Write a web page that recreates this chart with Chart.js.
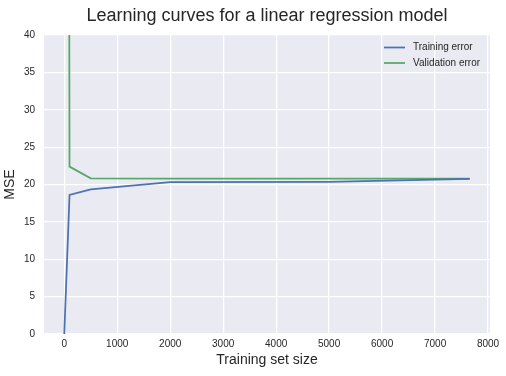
<!DOCTYPE html>
<html>
<head>
<meta charset="utf-8">
<script src="https://cdn.jsdelivr.net/npm/chart.js@4.4.0/dist/chart.umd.min.js"></script>
<style>
  html, body { margin: 0; padding: 0; background: #fff; }
  #wrap { width: 506px; height: 376px; }
</style>
</head>
<body>
<div id="wrap"><canvas id="chart" width="506" height="376"></canvas></div>
<script>
// training set sizes and mean MSE
var trainSizes = [1, 100, 500, 2000, 5000, 7654];
var trainError = [0, 18.6, 19.34, 20.33, 20.36, 20.75];
var validError = [423.4, 22.39, 20.83, 20.80, 20.79, 20.78];
var xTicks = [0, 1000, 2000, 3000, 4000, 5000, 6000, 7000, 8000];
var yTicks = [0, 5, 10, 15, 20, 25, 30, 35, 40];

var FONT = "'Liberation Sans', Arial, sans-serif";
var TXT = '#262626';

function toPoints(xs, ys) {
  return xs.map(function(x, i) { return {x: x, y: ys[i]}; });
}

// seaborn-like grey panel behind the plot
var panelBg = {
  id: 'panelBg',
  beforeDraw: function(chart) {
    var a = chart.chartArea, ctx = chart.ctx;
    ctx.save();
    ctx.fillStyle = '#EAEAF2';
    ctx.fillRect(a.left, a.top, a.right - a.left, a.bottom - a.top);
    ctx.restore();
  }
};

// legend sitting inside the plot, top right, no frame
var innerLegend = {
  id: 'innerLegend',
  afterDraw: function(chart) {
    var ctx = chart.ctx;
    ctx.save();
    ctx.font = '10px ' + FONT;
    ctx.textBaseline = 'middle';
    ctx.textAlign = 'left';
    chart.data.datasets.forEach(function(ds, i) {
      var y = 47.5 + i * 15.5;
      ctx.strokeStyle = ds.borderColor;
      ctx.lineWidth = 1.75;
      ctx.beginPath();
      ctx.moveTo(384, y);
      ctx.lineTo(405, y);
      ctx.stroke();
      ctx.fillStyle = TXT;
      ctx.fillText(ds.label, 413, y);
    });
    ctx.restore();
  }
};

new Chart(document.getElementById('chart'), {
  type: 'line',
  data: {
    datasets: [{
      label: 'Training error',
      data: toPoints(trainSizes, trainError),
      borderColor: '#4C72B0',
      borderWidth: 1.75,
      pointRadius: 0,
      fill: false,
      tension: 0
    }, {
      label: 'Validation error',
      data: toPoints(trainSizes, validError),
      borderColor: '#55A868',
      borderWidth: 1.75,
      pointRadius: 0,
      fill: false,
      tension: 0
    }]
  },
  options: {
    responsive: false,
    animation: false,
    layout: { padding: { top: 0, right: 16, left: 0, bottom: 0 } },
    plugins: {
      legend: { display: false },
      tooltip: { enabled: false },
      title: {
        display: true,
        text: 'Learning curves for a linear regression model',
        color: TXT,
        fullSize: false,
        font: { family: FONT, size: 18, weight: 'normal' },
        padding: { top: 5, bottom: 8.4 }
      }
    },
    scales: {
      x: {
        type: 'linear',
        min: -382,
        max: 8037,
        afterBuildTicks: function(s) { s.ticks = xTicks.map(function(v) { return {value: v}; }); },
        afterFit: function(s) { s.height = 42; },
        grid: { color: '#ffffff', lineWidth: 1.25, drawTicks: false },
        border: { display: false },
        ticks: {
          color: TXT, padding: 4, maxRotation: 0,
          font: { family: FONT, size: 10 },
          callback: function(v) { return String(v); }
        },
        title: {
          display: true,
          text: 'Training set size',
          color: TXT,
          font: { family: FONT, size: 14 },
          padding: { top: 0, bottom: 7.6 }
        }
      },
      y: {
        min: 0,
        max: 40,
        afterBuildTicks: function(s) { s.ticks = yTicks.map(function(v) { return {value: v}; }); },
        afterFit: function(s) { s.width = 44; },
        grid: { color: '#ffffff', lineWidth: 1.25, drawTicks: false },
        border: { display: false },
        ticks: { color: TXT, padding: 9, font: { family: FONT, size: 10 } },
        title: {
          display: true,
          text: 'MSE',
          color: TXT,
          font: { family: FONT, size: 14 },
          padding: { top: 2, bottom: 0 }
        }
      }
    }
  },
  plugins: [panelBg, innerLegend]
});
</script>
</body>
</html>
